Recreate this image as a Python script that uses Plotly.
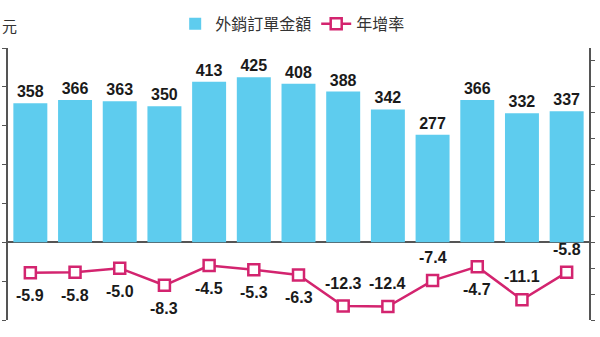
import plotly.graph_objects as go

periods = ["P1", "P2", "P3", "P4", "P5", "P6", "P7", "P8", "P9", "P10", "P11", "P12", "P13"]
orders = [358, 366, 363, 350, 413, 425, 408, 388, 342, 277, 366, 332, 337]
growth = [-5.9, -5.8, -5.0, -8.3, -4.5, -5.3, -6.3, -12.3, -12.4, -7.4, -4.7, -11.1, -5.8]
growth_label_side = ["below", "below", "below", "below", "below", "below", "below",
                     "above", "above", "above", "below", "above", "above"]

BAR = "#5ECCEE"
LINE = "#D3246F"
NUM_FONT = "Liberation Sans Narrow, Arial Narrow, Liberation Sans, Arial, sans-serif"
CJK_FONT = "Noto Sans CJK TC, Noto Sans CJK SC, sans-serif"

fig = go.Figure()
fig.add_trace(go.Bar(
    x=periods, y=orders, name="外銷訂單金額",
    marker=dict(color=BAR, line=dict(width=0)),
    text=[str(v) for v in orders], textposition="outside",
    textfont=dict(family=NUM_FONT, size=16, color="#1a1a1a", weight="bold"),
    cliponaxis=False,
))
fig.add_trace(go.Scatter(
    x=periods, y=growth, name="年增率", yaxis="y2",
    mode="lines+markers",
    line=dict(color=LINE, width=2.5),
    marker=dict(symbol="square", size=11, color="white", line=dict(color=LINE, width=2.5)),
    cliponaxis=False,
))

for p, g, side in zip(periods, growth, growth_label_side):
    fig.add_annotation(
        x=p, y=g, xref="x", yref="y2", text=f"{g:.1f}", showarrow=False,
        yshift=(-23 if side == "below" else 23),
        font=dict(family=NUM_FONT, size=16, color="#1a1a1a", weight="bold"),
    )

# axis unit (only its last character is visible in the reference)
fig.add_annotation(
    xref="paper", yref="paper", x=0.0, y=1.0, xanchor="left", yanchor="bottom",
    xshift=-8, yshift=10, text="元", showarrow=False,
    font=dict(family=CJK_FONT, size=15, color="#333"),
)

fig.update_layout(
    width=600, height=337,
    margin=dict(l=8, r=11, t=48, b=17, autoexpand=False),
    paper_bgcolor="white", plot_bgcolor="white",
    bargap=0.24,
    showlegend=True,
    legend=dict(orientation="h", x=0.49, xanchor="center", yref="container", y=0.98,
                yanchor="top",
                font=dict(family=CJK_FONT, size=16, color="#333"),
                itemwidth=30, bgcolor="rgba(0,0,0,0)"),
    xaxis=dict(range=[-0.5, len(periods) - 0.5], showticklabels=False, showline=False,
               ticks="", showgrid=False, zeroline=False),
    yaxis=dict(range=[-200, 500], dtick=100, tick0=0, showticklabels=False, ticks="outside",
               ticklen=4, tickcolor="#555", showline=True, linecolor="#555", linewidth=1.5,
               showgrid=False, zeroline=True, zerolinecolor="#555", zerolinewidth=1.5),
    yaxis2=dict(range=[-15, 37.5], dtick=5, tick0=0, overlaying="y", side="right",
                showticklabels=False, ticks="outside", ticklen=4, tickcolor="#555",
                showline=True, linecolor="#555", linewidth=1.5, showgrid=False, zeroline=False),
)

fig.write_html("out.html")
